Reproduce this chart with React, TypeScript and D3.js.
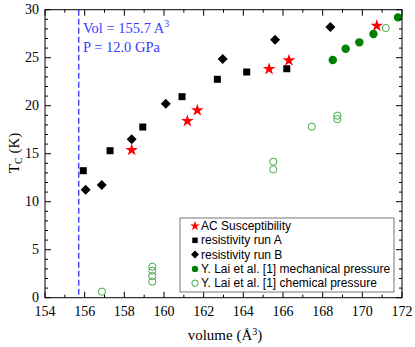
import React from "react";
import * as d3 from "d3";

const acX = [158.37, 161.18, 161.68, 165.3, 166.3, 170.73];
const acY = [15.39, 18.4, 19.52, 23.82, 24.72, 28.33];
const runAX = [155.93, 157.28, 158.93, 160.91, 162.69, 164.17, 166.19];
const runAY = [13.23, 15.31, 17.78, 20.94, 22.75, 23.51, 23.85];
const runBX = [156.05, 156.86, 158.37, 160.09, 162.96, 165.6, 168.39];
const runBY = [11.25, 11.74, 16.5, 20.21, 24.86, 26.88, 28.2];
const mechX = [168.51, 169.16, 169.85, 170.56, 171.8];
const mechY = [24.76, 25.94, 26.6, 27.47, 29.2];
const chemX = [156.87, 159.41, 159.41, 159.41, 159.41, 165.51, 165.51, 167.45, 168.74, 168.74, 171.18];
const chemY = [0.63, 3.23, 2.81, 2.26, 1.67, 14.17, 13.37, 17.81, 18.96, 18.6, 28.09];
const xTicks = [154, 156, 158, 160, 162, 164, 166, 168, 170, 172];
const yTicks = [0, 5, 10, 15, 20, 25, 30];
const legendLabels = [
  "AC Susceptibility",
  "resistivity run A",
  "resistivity run B",
  "Y. Lai et al. [1] mechanical pressure",
  "Y. Lai et al. [1] chemical pressure",
];
const refVol = 155.7;

const L = 45, R = 402, T = 9.7, B = 297.7;

const starPath = (r: number) => d3.symbol(d3.symbolStar, r)() as string;

export default function App() {
  const x = d3.scaleLinear().domain([154, 172]).range([L, R]);
  const y = d3.scaleLinear().domain([0, 30]).range([B, T]);
  const xMinor = d3.range(155, 172, 2);
  const yMinor = d3.range(0, 31, 1).filter((v) => v % 5 !== 0);
  const serif = "'Liberation Serif', 'DejaVu Serif', serif";
  const sans = "'Liberation Sans', Arial, sans-serif";
  const red = "#ff0000";
  const dg = "#008000";
  const lg = "#44aa44";

  const sq = (cx: number, cy: number, s: number, k: string) => (
    <rect key={k} x={cx - s / 2} y={cy - s / 2} width={s} height={s} fill="#000" />
  );
  const dia = (cx: number, cy: number, s: number, k: string) => (
    <path key={k} d={`M${cx},${cy - s}L${cx + s},${cy}L${cx},${cy + s}L${cx - s},${cy}Z`} fill="#000" />
  );
  const star = (cx: number, cy: number, a: number, k: string) => (
    <path key={k} d={starPath(a)} transform={`translate(${cx},${cy})`} fill={red} />
  );

  const lx = 180, ly = 218, lw = 214, lh = 74;
  const rowY = (i: number) => 226 + i * 14.3;
  const mx = 195, tx = 201;

  return (
    <svg width={415} height={347} style={{ position: "absolute", left: 0, top: 0 }}>
      <rect x={0} y={0} width={415} height={347} fill="#fff" />
      {/* dashed line */}
      <line x1={x(refVol)} x2={x(refVol)} y1={T} y2={B} stroke="#4d4dff" strokeWidth={1.5} strokeDasharray="6,3" />
      <text x={83} y={33} fontFamily={serif} fontSize={14.5} fill="#3a3aff">
        Vol = 155.7 A<tspan dy={-6} fontSize={10}>3</tspan>
      </text>
      <text x={83} y={52} fontFamily={serif} fontSize={14.5} fill="#3a3aff">P = 12.0 GPa</text>

      {/* data */}
      {chemX.map((v, i) => (
        <circle key={"c" + i} cx={x(v)} cy={y(chemY[i])} r={3.6} fill="none" stroke={lg} strokeWidth={1} />
      ))}
      {mechX.map((v, i) => (
        <circle key={"m" + i} cx={x(v)} cy={y(mechY[i])} r={4.2} fill={dg} />
      ))}
      {runAX.map((v, i) => sq(x(v), y(runAY[i]), 7, "a" + i))}
      {runBX.map((v, i) => dia(x(v), y(runBY[i]), 5, "b" + i))}
      {acX.map((v, i) => star(x(v), y(acY[i]), 50, "s" + i))}

      {/* axes frame */}
      <rect x={L} y={T} width={R - L} height={B - T} fill="none" stroke="#000" strokeWidth={1} />
      {xTicks.map((v) => (
        <g key={"xt" + v}>
          <line x1={x(v)} x2={x(v)} y1={B} y2={B - 6} stroke="#000" />
          <line x1={x(v)} x2={x(v)} y1={T} y2={T + 6} stroke="#000" />
          <text x={x(v)} y={316} textAnchor="middle" fontFamily={serif} fontSize={14}>{v}</text>
        </g>
      ))}
      {xMinor.map((v) => (
        <g key={"xm" + v}>
          <line x1={x(v)} x2={x(v)} y1={B} y2={B - 3} stroke="#000" />
          <line x1={x(v)} x2={x(v)} y1={T} y2={T + 3} stroke="#000" />
        </g>
      ))}
      {yTicks.map((v) => (
        <g key={"yt" + v}>
          <line x1={L} x2={L + 6} y1={y(v)} y2={y(v)} stroke="#000" />
          <line x1={R} x2={R - 6} y1={y(v)} y2={y(v)} stroke="#000" />
          <text x={39} y={y(v) + 4.5} textAnchor="end" fontFamily={serif} fontSize={14}>{v}</text>
        </g>
      ))}
      {yMinor.map((v) => (
        <g key={"ym" + v}>
          <line x1={L} x2={L + 3} y1={y(v)} y2={y(v)} stroke="#000" />
          <line x1={R} x2={R - 3} y1={y(v)} y2={y(v)} stroke="#000" />
        </g>
      ))}

      {/* axis labels */}
      <text x={225} y={340} textAnchor="middle" fontFamily={serif} fontSize={15}>
        volume (Å<tspan dy={-5} fontSize={10}>3</tspan><tspan dy={5}>)</tspan>
      </text>
      <text transform={`translate(19,153) rotate(-90)`} textAnchor="middle" fontFamily={serif} fontSize={15}>
        T<tspan dy={3} fontSize={10}>C</tspan><tspan dy={-3}> (K)</tspan>
      </text>

      {/* legend */}
      <rect x={lx} y={ly} width={lw} height={lh} fill="#fff" stroke="#777" strokeWidth={1} />
      {star(mx, rowY(0), 30, "ls")}
      {sq(mx, rowY(1), 5.5, "la")}
      {dia(mx, rowY(2), 4, "lb")}
      <circle cx={mx} cy={rowY(3)} r={3.2} fill={dg} />
      <circle cx={mx} cy={rowY(4)} r={3.2} fill="none" stroke={lg} strokeWidth={1} />
      {legendLabels.map((t, i) => (
        <text key={"lt" + i} x={tx} y={rowY(i) + 4} fontFamily={sans} fontSize={12}>{t}</text>
      ))}
    </svg>
  );
}
